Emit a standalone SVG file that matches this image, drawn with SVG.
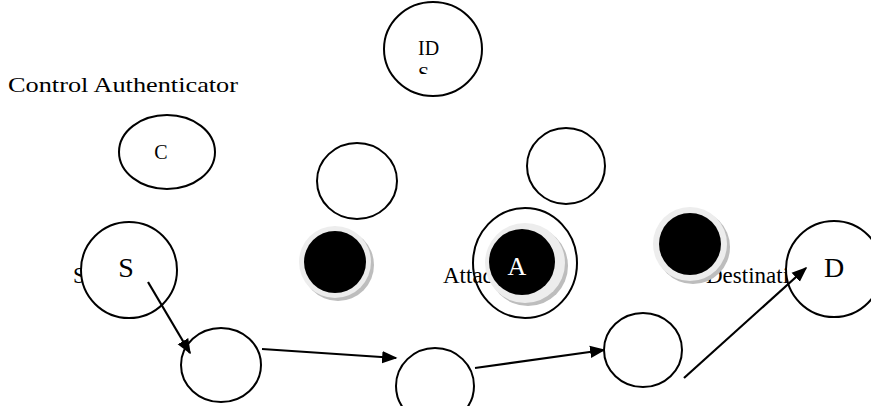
<svg xmlns="http://www.w3.org/2000/svg" width="871" height="406" viewBox="0 0 871 406">
<style>
.n{fill:#fff;stroke:#000;stroke-width:2}
.o{fill:none;stroke:#000;stroke-width:2}
.t{font-family:"Liberation Serif","Times New Roman",serif;fill:#000}
.e{stroke:#000;stroke-width:2.2;fill:none;marker-end:url(#ah)}
.sh{fill:#bdbdbd}
.ring{fill:#ededed}
.blk{fill:#000}
</style>
<defs>
<marker id="ah" viewBox="0 0 10 10" refX="9" refY="5" markerWidth="7" markerHeight="7" markerUnits="strokeWidth" orient="auto">
<path d="M0,1 L10,5 L0,9 z" fill="#000"/>
</marker>
<clipPath id="idsclip"><rect x="380" y="0" width="110" height="74"/></clipPath>
</defs>
<rect width="871" height="406" fill="#fff"/>
<text class="t" x="8" y="92" font-size="22" textLength="230" lengthAdjust="spacingAndGlyphs">Control Authenticator</text>
<text class="t" x="73" y="283" font-size="23">Source</text>
<text class="t" x="443" y="283" font-size="23">Attacker</text>
<text class="t" x="706" y="283" font-size="23">Destination</text>
<g id="ids">
<ellipse class="n" cx="433" cy="49" rx="49" ry="47"/>
<text class="t" x="418" y="55" font-size="20">ID</text>
<text class="t" x="418" y="81" font-size="20" clip-path="url(#idsclip)">S</text>
</g>
<g id="c">
<ellipse class="n" cx="167" cy="152" rx="48" ry="37"/>
<text class="t" x="161" y="159" font-size="20" text-anchor="middle">C</text>
</g>
<g id="n1"><ellipse class="n" cx="357" cy="181" rx="40" ry="38"/></g>
<g id="n2"><ellipse class="n" cx="566" cy="166" rx="39" ry="38"/></g>
<g id="s">
<circle class="n" cx="129" cy="270" r="48"/>
<text class="t" x="126" y="277" font-size="28" text-anchor="middle">S</text>
</g>
<g id="m1">
<circle class="sh" cx="338" cy="265" r="36"/>
<circle class="ring" cx="335" cy="262" r="36"/>
<circle class="blk" cx="335" cy="262" r="31"/>
</g>
<g id="a">
<ellipse class="o" cx="525" cy="263" rx="52" ry="55"/>
<circle class="sh" cx="528" cy="266" r="40"/>
<circle class="ring" cx="525" cy="263" r="40"/>
<circle class="blk" cx="522" cy="262" r="33"/>
<text x="517" y="275" font-size="26" text-anchor="middle" font-family="Liberation Serif,serif" fill="#fff">A</text>
</g>
<g id="m3">
<circle class="sh" cx="693" cy="247" r="37"/>
<circle class="ring" cx="690" cy="244" r="37"/>
<circle class="blk" cx="690" cy="244" r="31"/>
</g>
<g id="d">
<circle class="n" cx="834" cy="269" r="48"/>
<text class="t" x="834" y="277" font-size="28" text-anchor="middle">D</text>
</g>
<g id="b1"><ellipse class="n" cx="221" cy="365" rx="40" ry="37"/></g>
<g id="b2"><ellipse class="n" cx="435" cy="386" rx="39" ry="38"/></g>
<g id="b3"><ellipse class="n" cx="643" cy="350" rx="39" ry="37"/></g>
<g id="edges">
<line class="e" x1="148" y1="282" x2="190" y2="353"/>
<line class="e" x1="262" y1="349" x2="396" y2="358"/>
<line class="e" x1="475" y1="368" x2="604" y2="350"/>
<line class="e" x1="684" y1="378" x2="806" y2="268"/>
</g>
</svg>
